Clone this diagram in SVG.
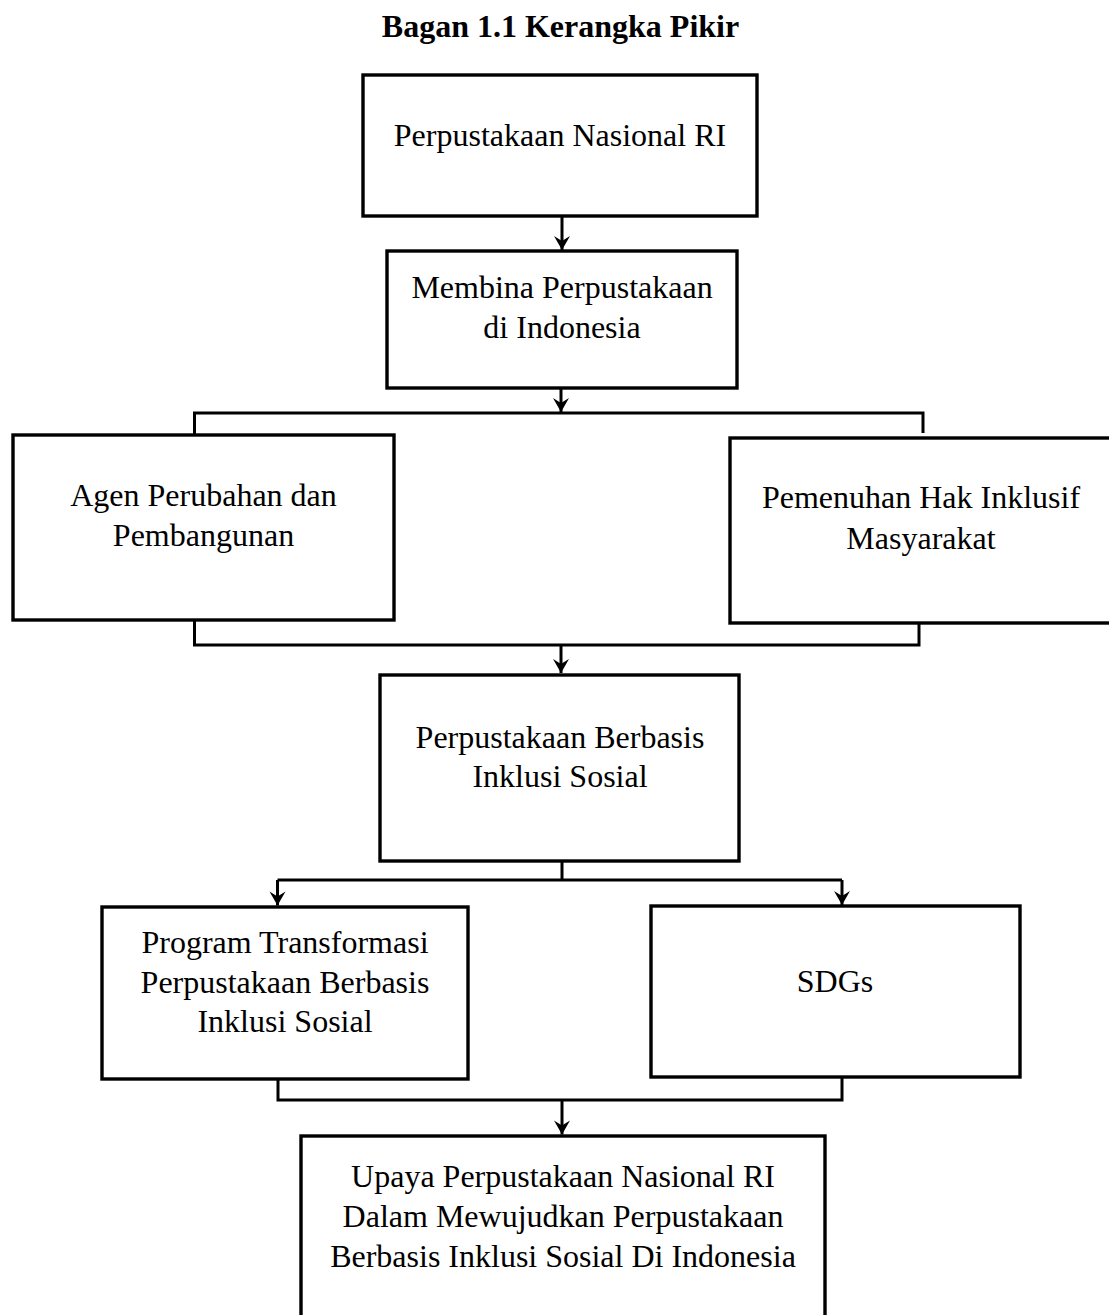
<svg xmlns="http://www.w3.org/2000/svg" width="1109" height="1315" viewBox="0 0 1109 1315">
<style>
.box{fill:#fff;stroke:#000;stroke-width:3.4}
.t{font-family:"Liberation Serif","Times New Roman",serif;font-size:32px;fill:#000;text-anchor:middle}
.title{font-weight:bold}
.c{fill:none;stroke:#000;stroke-width:3}
</style>
<defs>
<marker id="ah" markerUnits="userSpaceOnUse" markerWidth="20" markerHeight="20" viewBox="-16 -10 18 20" refX="0" refY="0" orient="auto">
<path d="M0,0 L-14,-8 L-9,0 L-14,8 Z" fill="#000"/>
</marker>
</defs>
<rect width="1109" height="1315" fill="#fff"/>
<text class="t title" x="560.5" y="37">Bagan 1.1 Kerangka Pikir</text>

<g id="connectors">
<path class="c" d="M562,216 V250" marker-end="url(#ah)"/>
<path class="c" d="M561,388 V412" marker-end="url(#ah)"/>
<path class="c" d="M194.5,434 V413 H923 V433"/>
<path class="c" d="M194.5,620 V645 H919 V623"/>
<path class="c" d="M561,645 V673" marker-end="url(#ah)"/>
<path class="c" d="M562,861 V880"/>
<path class="c" d="M277.5,880 H842"/>
<path class="c" d="M277.5,880 V905.5" marker-end="url(#ah)"/>
<path class="c" d="M842,880 V905" marker-end="url(#ah)"/>
<path class="c" d="M278,1079 V1100 H842 V1077"/>
<path class="c" d="M562,1100 V1134.5" marker-end="url(#ah)"/>
</g>

<g id="n1">
<rect class="box" x="363" y="75" width="394" height="141"/>
<text class="t" x="560" y="146">Perpustakaan Nasional RI</text>
</g>
<g id="n2">
<rect class="box" x="387" y="251" width="350" height="137"/>
<text class="t" x="562" y="298">Membina Perpustakaan</text>
<text class="t" x="562" y="338">di Indonesia</text>
</g>
<g id="n3">
<rect class="box" x="13" y="435" width="381" height="185"/>
<text class="t" x="203.5" y="506">Agen Perubahan dan</text>
<text class="t" x="203.5" y="546">Pembangunan</text>
</g>
<g id="n4">
<rect class="box" x="730" y="438" width="384" height="185"/>
<text class="t" x="921" y="508">Pemenuhan Hak Inklusif</text>
<text class="t" x="921" y="549">Masyarakat</text>
</g>
<g id="n5">
<rect class="box" x="380" y="675" width="359" height="186"/>
<text class="t" x="560" y="748">Perpustakaan Berbasis</text>
<text class="t" x="560" y="787">Inklusi Sosial</text>
</g>
<g id="n6">
<rect class="box" x="102" y="907" width="366" height="172"/>
<text class="t" x="285" y="953">Program Transformasi</text>
<text class="t" x="285" y="993">Perpustakaan Berbasis</text>
<text class="t" x="285" y="1032">Inklusi Sosial</text>
</g>
<g id="n7">
<rect class="box" x="651" y="906" width="369" height="171"/>
<text class="t" x="835" y="992">SDGs</text>
</g>
<g id="n8">
<rect class="box" x="301" y="1136" width="524" height="190"/>
<text class="t" x="563" y="1187">Upaya Perpustakaan Nasional RI</text>
<text class="t" x="563" y="1227">Dalam Mewujudkan Perpustakaan</text>
<text class="t" x="563" y="1267">Berbasis Inklusi Sosial Di Indonesia</text>
</g>
</svg>
